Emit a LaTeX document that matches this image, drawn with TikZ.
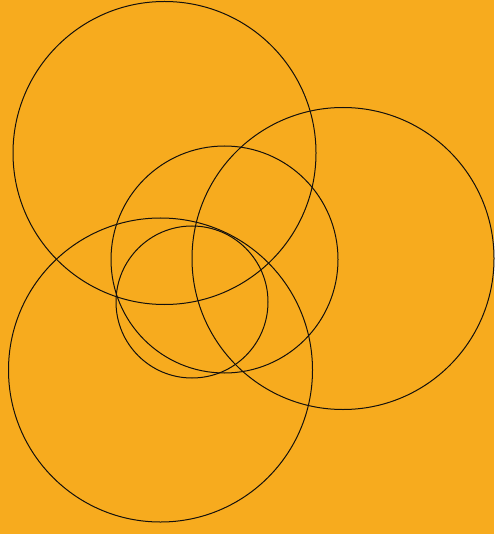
\documentclass[tikz,border=0pt]{standalone}
\definecolor{bgorange}{RGB}{247,171,30}
\definecolor{ink}{RGB}{20,16,12}
\tikzset{ring/.style={draw=ink,line width=1pt}}
\begin{document}
\begin{tikzpicture}[x=1pt,y=-1pt]
\fill[bgorange] (0,0) rectangle (494,534);
\useasboundingbox (0,0) rectangle (494,534);
\draw[ring] (164.5,153) circle[radius=151.5];
\draw[ring] (343,258.5) circle[radius=151];
\draw[ring] (224.5,259.5) circle[radius=113.5];
\draw[ring] (160.5,370) circle[radius=152];
\draw[ring] (192,302) circle[radius=76];
\end{tikzpicture}
\end{document}
